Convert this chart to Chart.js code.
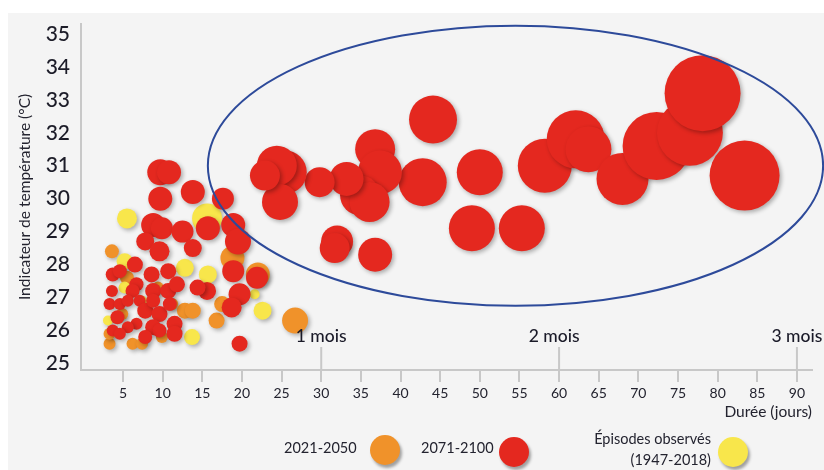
<!DOCTYPE html>
<html>
<head>
<meta charset="utf-8">
<script src="https://cdn.jsdelivr.net/npm/chart.js@4.4.0/dist/chart.umd.min.js"></script>
<style>
  body { margin: 0; width: 824px; height: 470px; background: #fff; position: relative; overflow: hidden;
         font-family: Lato, "Open Sans", sans-serif; color: #2b2b38; }
  #wrap { position: absolute; left: 8px; top: 13px; width: 816px; height: 457px; background: #f4f4f4; }
  .txt { position: absolute; font-size: 14.5px; color: #23232f; white-space: nowrap; }
  .dot { position: absolute; width: 30px; height: 30px; border-radius: 50%; box-shadow: 2px 3px 3px rgba(0,0,0,0.35); }
</style>
</head>
<body>
<div id="wrap"><canvas id="chart" width="816" height="457"></canvas></div>

<div class="txt" style="left:284px; top:439px;">2021-2050</div>
<div class="dot" style="left:370px; top:435px; background:#f0922a;"></div>
<div class="txt" style="left:421px; top:439px;">2071-2100</div>
<div class="dot" style="left:499px; top:437px; background:#e4281f;"></div>
<div class="txt" style="right:113px; top:428px; text-align:right; line-height:21px;">Épisodes observés<br>(1947-2018)</div>
<div class="dot" style="left:718px; top:437px; background:#f8e64b;"></div>

<script>
// tick labels
const xTicks = [5, 10, 15, 20, 25, 30, 35, 40, 45, 50, 55, 60, 65, 70, 75, 80, 85, 90];
const yTicks = [25, 26, 27, 28, 29, 30, 31, 32, 33, 34, 35];
const monthDays = [30, 60, 90];
const monthLabels = ["1 mois", "2 mois", "3 mois"];

// [durée (jours), indicateur (°C), taille]
const scen2021 = [
  [3.6, 28.4, 7], [5.5, 27.6, 7], [9.4, 27.3, 6], [4.9, 26.5, 6], [11.2, 26.8, 6],
  [3.3, 25.6, 6], [6.2, 25.6, 6], [7.4, 25.6, 6], [9.9, 25.8, 6], [12.8, 26.6, 8],
  [13.8, 26.6, 8], [3.3, 25.9, 6], [26.7, 26.3, 13], [18.8, 28.2, 12], [22.0, 27.7, 12],
  [16.8, 26.3, 8], [17.5, 26.8, 8]
];
const scen2071 = [
  [44.1, 32.4, 24], [42.8, 30.5, 24], [50.0, 30.8, 23], [49.0, 29.1, 23], [55.3, 29.1, 23],
  [58.2, 31.0, 27], [62.1, 31.8, 29], [63.7, 31.5, 23], [68.0, 30.6, 26], [72.3, 31.6, 34],
  [76.5, 32.0, 33], [78.1, 33.2, 38], [83.4, 30.7, 35], [36.8, 31.5, 20], [37.4, 30.8, 22],
  [34.9, 30.1, 20], [36.1, 29.9, 20], [33.2, 30.6, 17], [29.8, 30.5, 15], [25.4, 30.8, 22],
  [24.4, 31.0, 20], [24.8, 29.9, 18], [22.9, 30.7, 15], [32.0, 28.7, 16], [31.7, 28.5, 15],
  [36.8, 28.3, 17],
  [9.7, 30.8, 13], [10.8, 30.8, 12], [9.7, 30.0, 12], [13.8, 30.2, 12], [17.6, 30.0, 11],
  [8.8, 29.2, 12], [9.9, 29.1, 11], [12.5, 29.0, 11], [15.7, 29.1, 12], [18.9, 29.2, 12],
  [19.5, 28.7, 13], [7.8, 28.7, 9], [9.6, 28.4, 10], [13.8, 28.5, 9], [18.9, 27.8, 11],
  [21.9, 27.6, 11], [19.7, 27.1, 11], [18.7, 26.7, 10], [15.6, 27.2, 9], [14.4, 27.3, 8],
  [19.7, 25.6, 8],
  [3.7, 27.7, 7], [4.6, 27.8, 7], [6.5, 28.0, 8], [8.6, 27.7, 8], [10.7, 27.8, 8],
  [6.7, 27.4, 7], [6.2, 27.2, 7], [8.8, 27.2, 8], [10.7, 27.2, 8], [11.8, 27.4, 8],
  [3.6, 27.2, 6], [3.3, 26.8, 6], [4.6, 26.8, 6], [5.6, 26.9, 6], [7.1, 26.9, 6],
  [7.8, 26.6, 8], [8.8, 26.9, 7], [9.6, 26.5, 8], [10.9, 26.8, 7], [4.3, 26.4, 7],
  [6.7, 26.2, 6], [5.6, 26.1, 6], [3.7, 26.0, 6], [4.6, 25.9, 6], [8.8, 26.1, 8],
  [9.6, 26.0, 7], [7.8, 25.8, 7], [11.5, 26.2, 8], [11.5, 25.9, 8]
];
const observed = [
  [5.5, 29.4, 10], [15.6, 29.4, 15], [12.8, 27.9, 9], [15.7, 27.7, 9], [22.6, 26.6, 9],
  [13.7, 25.8, 8], [5.2, 28.1, 8], [5.2, 27.3, 6], [3.1, 26.3, 5], [7.4, 26.9, 5],
  [21.6, 27.1, 5]
];

// ellipse around the long episodes, in data units
const ellipse = { x: 54.5, y: 31.0, rx: 38.8, ry: 4.25 };

function toPoints(rows) {
  return rows.map(([x, y, r]) => ({ x, y, r }));
}

const shadowPlugin = {
  id: "shadow",
  beforeDatasetDraw(chart) {
    const ctx = chart.ctx;
    ctx.save();
    ctx.shadowColor = "rgba(0,0,0,0.3)";
    ctx.shadowBlur = 4;
    ctx.shadowOffsetX = 2;
    ctx.shadowOffsetY = 2;
  },
  afterDatasetDraw(chart) {
    chart.ctx.restore();
  }
};

const overlayPlugin = {
  id: "overlay",
  afterDatasetsDraw(chart) {
    const ctx = chart.ctx;
    const xs = chart.scales.x, ys = chart.scales.y;
    const bottom = chart.chartArea.bottom;

    // months markers
    ctx.save();
    ctx.strokeStyle = "#c8c8c8";
    ctx.lineWidth = 2;
    ctx.fillStyle = "#1a1a28";
    ctx.font = "500 17.5px Lato, sans-serif";
    ctx.textAlign = "center";
    ctx.textBaseline = "middle";
    monthDays.forEach((d, i) => {
      const px = xs.getPixelForValue(d);
      ctx.beginPath();
      ctx.moveTo(px, bottom);
      ctx.lineTo(px, bottom - 23);
      ctx.stroke();
      ctx.fillText(monthLabels[i], px - (i === 1 ? 5 : 0), bottom - 34);
    });
    ctx.restore();

    // ellipse
    const cx = xs.getPixelForValue(ellipse.x);
    const cy = ys.getPixelForValue(ellipse.y);
    const rx = xs.getPixelForValue(ellipse.x + ellipse.rx) - cx;
    const ry = cy - ys.getPixelForValue(ellipse.y + ellipse.ry);
    ctx.save();
    ctx.strokeStyle = "#2d4a9a";
    ctx.lineWidth = 2;
    ctx.beginPath();
    ctx.ellipse(cx, cy, rx, ry, 0, 0, Math.PI * 2);
    ctx.stroke();
    ctx.restore();
  }
};

new Chart(document.getElementById("chart"), {
  type: "bubble",
  data: {
    datasets: [
      { label: "2071-2100", data: toPoints(scen2071), backgroundColor: "#e4281f", borderWidth: 0, order: 1, clip: false },
      { label: "Épisodes observés (1947-2018)", data: toPoints(observed), backgroundColor: "#f8e64b", borderWidth: 0, order: 2, clip: false },
      { label: "2021-2050", data: toPoints(scen2021), backgroundColor: "#f0922a", borderWidth: 0, order: 3, clip: false }
    ]
  },
  options: {
    responsive: false,
    animation: false,
    events: [],
    layout: { autoPadding: false, padding: { top: 11, right: 12, bottom: 0, left: 0 } },
    plugins: { legend: { display: false }, tooltip: { enabled: false } },
    scales: {
      x: {
        type: "linear",
        min: -0.3,
        max: 91.9,
        afterBuildTicks: s => { s.ticks = xTicks.map(v => ({ value: v })); },
        afterFit: s => { s.height = 100; s.paddingLeft = 0; s.paddingRight = 0; },
        grid: { drawOnChartArea: false, drawTicks: true, tickLength: 12, color: "#c8c8c8", lineWidth: 2 },
        border: { color: "#c8c8c8", width: 2 },
        ticks: { color: "#23232f", font: { family: "Lato", size: 14 }, padding: 3, maxRotation: 0, autoSkip: false },
        title: { display: true, text: "Durée (jours)", align: "end", color: "#23232f",
                 font: { family: "Lato", size: 15.5 }, padding: { top: 0, bottom: 49 } }
      },
      y: {
        type: "linear",
        min: 24.8,
        max: 35.3,
        afterBuildTicks: s => { s.ticks = yTicks.map(v => ({ value: v })); },
        afterFit: s => { s.width = 73; s.paddingTop = 0; s.paddingBottom = 0; },
        grid: { drawOnChartArea: false, drawTicks: false },
        border: { color: "#c8c8c8", width: 2 },
        ticks: { color: "#1c1c28", font: { family: "Lato", size: 21, weight: "500" }, padding: 11 },
        title: { display: true, text: "Indicateur de température (°C)", color: "#23232f",
                 font: { family: "Lato", size: 15.5 }, padding: { top: 8, bottom: 0 } }
      }
    }
  },
  plugins: [shadowPlugin, overlayPlugin]
});
</script>
</body>
</html>
